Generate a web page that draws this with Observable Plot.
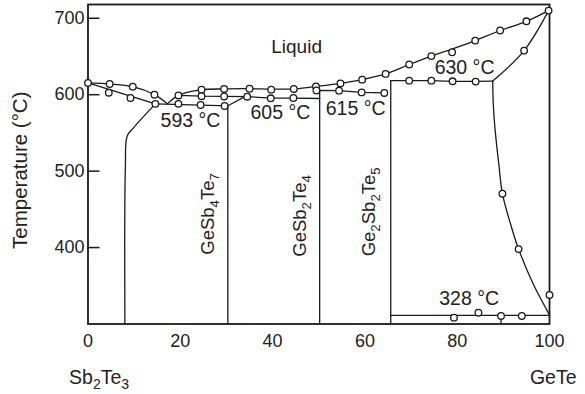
<!DOCTYPE html>
<html><head><meta charset="utf-8">
<script src="https://cdn.jsdelivr.net/npm/d3@7"></script>
<script src="https://cdn.jsdelivr.net/npm/@observablehq/plot@0.6"></script>
<style>body{margin:0;background:#fff} svg{display:block}</style>
</head><body><div id="chart"></div>
<script>
// Axis ticks
const xTicks = [0, 20, 40, 60, 80, 100];
const yTicks = [400, 500, 600, 700];
const tMin = 300, tMax = 718;

// Phase boundary curves: [mol% GeTe, temperature °C]
const liquidusLeft = [[0,615.4],[4.7,614],[9.7,610.5],[14.4,600],[17.2,588]];
const solidusLeft = [[0,615.4],[14.6,588]];
const line593 = [[14.6,588],[30.3,585.5]];
const boundarySb2Te3 = [[14.6,588],[9.9,557],[8.5,546],[8.1,505],[8,300]];
const liquidusRight = [[17.2,588],[19.6,599],[24.6,606.5],[29.5,607.5],[35,607.8],[39.7,607.3],[44.6,607.5],[49.4,610.8],[54.7,614.8],[59.4,619.7],[64.5,627.2],[69.6,639.5],[74.4,650.5],[79,660],[83.9,670.8],[89.3,684],[95,696],[99.8,710]];
const line605 = [[19.6,599],[24.6,598],[29.5,597.7],[34.5,597.4],[39.6,595.5],[44.5,595.5],[50.2,595]];
const rise605 = [[30.3,585.5],[33.8,596.8]];
const line615 = [[49.5,605.5],[54.4,605.3],[59.3,603],[64.2,602.3]];
const line630 = [[65.6,618.5],[69.6,618.4],[74.4,618.4],[79,617.5],[84,617.3],[87.7,617.8]];
const solidusRight = [[87.7,617.8],[94.5,657.7],[99.8,710]];
const solvusGeTe = [[87.7,617.8],[87.8,590],[88.2,555],[89,510],[89.8,470.5],[91.5,432],[93.3,398],[96.5,352],[100,312]];
const line328 = [[65.6,311.4],[100,311.4]];
const stub328 = [[89.5,310.5],[89.5,300]];

// Compound composition lines
const compoundX = [30.3, 50.2, 65.6];
const compoundTop = [585.5, 606, 618.5];

// Measured points (open circles)
const measured = [
  [0,615.4],[4.7,614],[9.7,610.5],[14.4,600],[4.5,602.6],[9.2,595.7],[14.6,588],
  [19.6,599],[24.6,606.5],[29.5,607.5],[24.6,598],[29.5,597.7],[19.6,588],[24.4,586.5],[29.6,585.2],
  [35,607.8],[39.7,606.6],[44.6,607.5],[49.4,610.8],[34.5,597.4],[39.6,595.3],[44.5,595.7],[49.5,605.5],
  [54.4,605.3],[59.3,603],[64.2,602.3],
  [54.7,614.8],[59.4,619.7],[64.5,627.2],[69.6,639.5],[74.4,650.5],[78.9,655.5],[83.9,670.8],[89.3,684],[95,696],[99.8,710],
  [69.6,618.4],[74.4,618.4],[79,617.5],[84,617.1],
  [94.5,657.7],
  [89.8,470.5],[93.3,398],[100,338],
  [79.3,308.3],[84.6,314.8],[89.5,310.5],[94,310.5]
];

// Text labels
const regionLabel = ["Liquid"]; const regionX = [45.2]; const regionT = [663];
const tempLabels = ["593 °C","605 °C","615 °C","630 °C","328 °C"];
const tempX = [22.2, 41.7, 58, 81.6, 82.6];
const tempT = [566, 575.8, 582, 634.8, 333.4];
const compoundLabels = ["GeSb_4Te_7","GeSb_2Te_4","Ge_2Sb_2Te_5"];
const compoundLabelX = [26.0, 45.9, 60.9];
const compoundLabelT = [444, 441.5, 446.8];
const endLabels = ["Sb_2Te_3","GeTe"];
const endX = [2.4, 100.8];
const endT = [230, 229.3];
const yTitle = ["Temperature (°C)"];

const ink = "#1a1a1a";
const lw = 1.3;
const ln = (data, curve = "linear") => Plot.line(data, {x: d => d[0], y: d => d[1], stroke: ink, strokeWidth: lw, curve});

const chart = Plot.plot({
  width: 585, height: 394,
  marginLeft: 87.5, marginRight: 36, marginTop: 4, marginBottom: 70.5,
  style: {fontFamily: "'Liberation Sans', Arial, Helvetica, sans-serif", fontSize: "18px", color: "#222", background: "#fff"},
  x: {domain: [0, 100]},
  y: {domain: [tMin, tMax]},
  marks: [
    Plot.axisX(xTicks, {tickSize: 0, tickPadding: 10, fontSize: 18, label: null}),
    Plot.axisY(yTicks, {tickSize: 0, tickPadding: 3.5, fontSize: 18, label: null}),
    Plot.axisY(yTicks, {tickSize: 12, dx: 12, tickFormat: () => "", label: null, stroke: ink, strokeWidth: 1.5}),
    Plot.ruleX(compoundX, {y1: tMin, y2: (d, i) => compoundTop[i], stroke: ink, strokeWidth: lw}),
    ln(liquidusLeft, "catmull-rom"),
    ln(solidusLeft),
    ln(line593),
    ln(boundarySb2Te3, "catmull-rom"),
    ln(liquidusRight, "catmull-rom"),
    ln(line605),
    ln(rise605),
    ln(line615),
    ln(line630),
    ln(solidusRight, "catmull-rom"),
    ln(solvusGeTe, "catmull-rom"),
    ln(line328),
    ln(stub328),
    Plot.frame({stroke: ink, strokeWidth: 1.8}),
    Plot.dot(measured, {x: d => d[0], y: d => d[1], r: 3.3, fill: "white", stroke: ink, strokeWidth: lw}),
    Plot.text(regionLabel, {x: (d, i) => regionX[i], y: (d, i) => regionT[i], text: d => d, fontSize: 19, fill: "#222"}),
    Plot.text(tempLabels, {x: (d, i) => tempX[i], y: (d, i) => tempT[i], text: d => d, fontSize: 19.5, fill: "#222"}),
    Plot.text(compoundLabels, {x: (d, i) => compoundLabelX[i], y: (d, i) => compoundLabelT[i], text: d => d, rotate: -90, fontSize: 18.5, fill: "#222"}),
    Plot.text(endLabels, {x: (d, i) => endX[i], y: (d, i) => endT[i], text: d => d, fontSize: 19.5, fill: "#222", clip: false}),
    Plot.text(yTitle, {frameAnchor: "left", textAnchor: "middle", text: d => d, rotate: -90, dx: -67.5, dy: 6, fontSize: 20.5, fill: "#222"})
  ]
});

// Render "_n" as a subscript digit inside the real text
chart.querySelectorAll("text").forEach(t => {
  const s = t.textContent;
  if (!s.includes("_")) return;
  t.textContent = "";
  const parts = s.split(/_(\d)/);
  let shifted = false;
  parts.forEach((p, i) => {
    if (p === "") return;
    const ts = document.createElementNS("http://www.w3.org/2000/svg", "tspan");
    ts.textContent = p;
    if (i % 2 === 1) { ts.setAttribute("dy", "5"); ts.setAttribute("font-size", "0.72em"); shifted = true; }
    else if (shifted) { ts.setAttribute("dy", "-5"); shifted = false; }
    t.appendChild(ts);
  });
});

document.getElementById("chart").appendChild(chart);
</script>
</body></html>
